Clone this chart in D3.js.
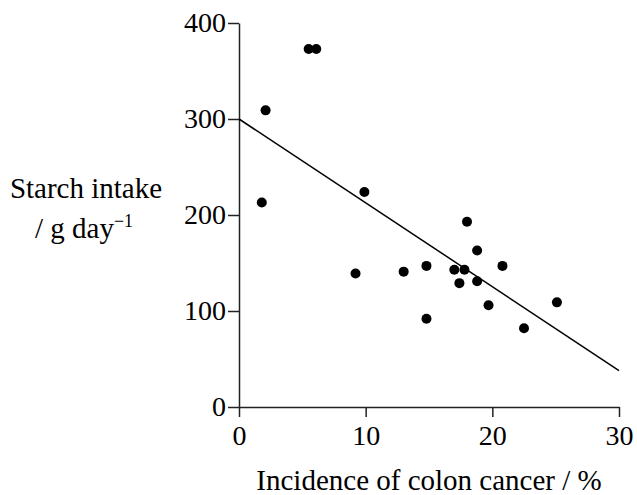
<!DOCTYPE html>
<html>
<head>
<meta charset="utf-8">
<script src="https://cdn.jsdelivr.net/npm/d3@7"></script>
<style>
  body { margin: 0; background: #fff; }
  svg text { font-family: "Liberation Serif", "Times New Roman", Times, Tinos, "DejaVu Serif", serif; fill: #000; }
  .axis path, .axis line { stroke: #222; stroke-width: 1.5; }
  .axis text { font-size: 28px; }
</style>
</head>
<body>
<div id="chart"></div>
<script>
// incidence of colon cancer (%) vs starch intake (g/day)
const incidence = [5.5, 6.1, 2.1, 1.8, 9.9, 9.2, 13.0, 14.8, 14.8, 18.0, 18.8, 17.0, 17.8, 17.4, 18.8, 20.8, 19.7, 25.1, 22.5];
const starch = [373, 373, 309, 213, 224, 139, 141, 147, 92, 193, 163, 143, 143, 129, 131, 147, 106, 109, 82];
const trendX = [0, 30];
const trendY = [300, 38];
const xTicks = [0, 10, 20, 30];
const yTicks = [0, 100, 200, 300, 400];

const width = 637;
const height = 495;
const margin = { top: 23, right: 18, bottom: 88, left: 239 };
const serif = '"Liberation Serif", "Times New Roman", Times, Tinos, "DejaVu Serif", serif';

const svg = d3.select('#chart')
  .append('svg')
  .attr('width', width)
  .attr('height', height);

const x = d3.scaleLinear().domain([0, 30]).range([margin.left, width - margin.right]);
const y = d3.scaleLinear().domain([0, 400]).range([height - margin.bottom, margin.top]);

svg.append('g')
  .attr('class', 'axis')
  .attr('transform', `translate(0, ${y(0)})`)
  .call(d3.axisBottom(x).tickValues(xTicks).tickFormat(d3.format('d')).tickSize(10).tickSizeOuter(0).tickPadding(8))
  .attr('font-family', serif);

svg.append('g')
  .attr('class', 'axis')
  .attr('transform', `translate(${x(0)}, 0)`)
  .call(d3.axisLeft(y).tickValues(yTicks).tickFormat(d3.format('d')).tickSize(11).tickSizeOuter(0).tickPadding(2))
  .attr('font-family', serif);

// trend line
svg.append('line')
  .attr('x1', x(trendX[0]))
  .attr('y1', y(trendY[0]))
  .attr('x2', x(trendX[1]))
  .attr('y2', y(trendY[1]))
  .attr('stroke', '#000')
  .attr('stroke-width', 1.5);

svg.append('g')
  .selectAll('circle')
  .data(incidence.map((d, i) => [d, starch[i]]))
  .join('circle')
  .attr('cx', d => x(d[0]))
  .attr('cy', d => y(d[1]))
  .attr('r', 5)
  .attr('fill', '#000');

// axis titles
svg.append('text')
  .attr('x', 429)
  .attr('y', 490)
  .attr('text-anchor', 'middle')
  .attr('font-family', serif)
  .attr('font-size', 29)
  .text('Incidence of colon cancer / %');

svg.append('text')
  .attr('x', 86)
  .attr('y', 198)
  .attr('text-anchor', 'middle')
  .attr('font-family', serif)
  .attr('font-size', 29)
  .text('Starch intake');

const unit = svg.append('text')
  .attr('x', 84)
  .attr('y', 238)
  .attr('text-anchor', 'middle')
  .attr('font-family', serif)
  .attr('font-size', 29);
unit.append('tspan').text('/ g day');
unit.append('tspan')
  .attr('dy', -11)
  .attr('font-size', 18)
  .text('\u22121');
</script>
</body>
</html>
